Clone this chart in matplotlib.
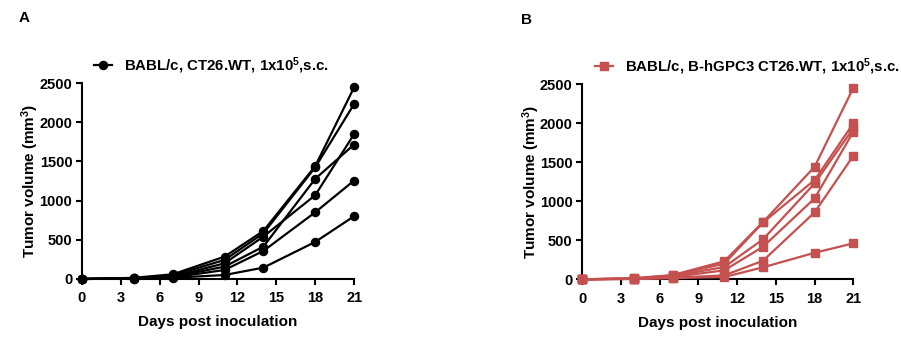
import matplotlib
matplotlib.use("Agg")
import matplotlib.pyplot as plt
from matplotlib.lines import Line2D

plt.rcParams['font.family'] = ['Liberation Sans', 'DejaVu Sans']
plt.rcParams['font.weight'] = 'bold'
plt.rcParams['axes.labelweight'] = 'bold'
plt.rcParams['mathtext.fontset'] = 'custom'
plt.rcParams['mathtext.rm'] = 'Liberation Sans:bold'
plt.rcParams['mathtext.bf'] = 'Liberation Sans:bold'
plt.rcParams['mathtext.default'] = 'rm'

# days after inoculation
days = [0, 4, 7, 11, 14, 18, 21]

# tumour volumes (mm^3) per mouse, CT26.WT
wt_mice = [
    [0, 15, 60, 285, 613, 1440, 2445],
    [0, 12, 45, 243, 583, 1425, 2232],
    [0, 10, 30, 200, 541, 1069, 1848],
    [0, 8, 25, 158, 413, 1278, 1716],
    [0, 6, 20, 115, 358, 851, 1256],
    [0, 5, 15, 51, 145, 473, 801],
]

# tumour volumes (mm^3) per mouse, B-hGPC3 CT26.WT
gpc3_mice = [
    [0, 15, 55, 231, 733, 1441, 2452],
    [0, 12, 50, 201, 728, 1271, 1997],
    [0, 10, 40, 158, 512, 1229, 1933],
    [0, 8, 30, 115, 417, 1037, 1890],
    [0, 6, 20, 51, 238, 858, 1582],
    [0, 5, 15, 30, 154, 340, 461],
]

labels = [r'BABL/c, CT26.WT, 1x10$^{5}$,s.c.',
          r'BABL/c, B-hGPC3 CT26.WT, 1x10$^{5}$,s.c.']
colors = ['black', '#C55050']
markers = ['o', 's']

fig = plt.figure(figsize=(9.01, 3.39), dpi=100)
ax_a = fig.add_axes([0.091, 0.177, 0.302, 0.578])
ax_b = fig.add_axes([0.6463, 0.176, 0.3008, 0.576])


def draw_panel(ax, mice, color, marker, label):
    for vol in mice:
        ax.plot(days, vol, color=color, lw=1.6, marker=marker, ms=5.8,
                clip_on=False, zorder=3)
    ax.set_xlim(0, 21)
    ax.set_ylim(0, 2500)
    ax.set_xticks(range(0, 22, 3))
    ax.set_yticks(range(0, 2501, 500))
    for side in ('top', 'right'):
        ax.spines[side].set_visible(False)
    for side in ('left', 'bottom'):
        ax.spines[side].set_linewidth(1.5)
    ax.tick_params(width=1.5, length=4, labelsize=10.5, pad=3)
    for t in ax.get_xticklabels() + ax.get_yticklabels():
        t.set_fontweight('bold')
    ax.tick_params(axis='x', pad=5)
    ax.set_xlabel('Days post inoculation', fontsize=11, labelpad=7)
    ax.set_ylabel(r'Tumor volume (mm$^{3}$)', fontsize=11, labelpad=-1.5)
    handle = Line2D([], [], color=color, lw=1.6, marker=marker, ms=5.8)
    ax.legend(handles=[handle], labels=[label], loc='center left',
              bbox_to_anchor=(0.045, 1.09), frameon=False,
              prop={'size': 10.8, 'weight': 'bold'},
              borderpad=0, borderaxespad=0, handlelength=1.2,
              handletextpad=0.8)


draw_panel(ax_a, wt_mice, colors[0], markers[0], labels[0])
draw_panel(ax_b, gpc3_mice, colors[1], markers[1], labels[1])

fig.text(0.021, 0.947, 'A', fontsize=11, fontweight='bold', va='center')
fig.text(0.578, 0.94, 'B', fontsize=11, fontweight='bold', va='center')

fig.savefig('out.png', dpi=100)
